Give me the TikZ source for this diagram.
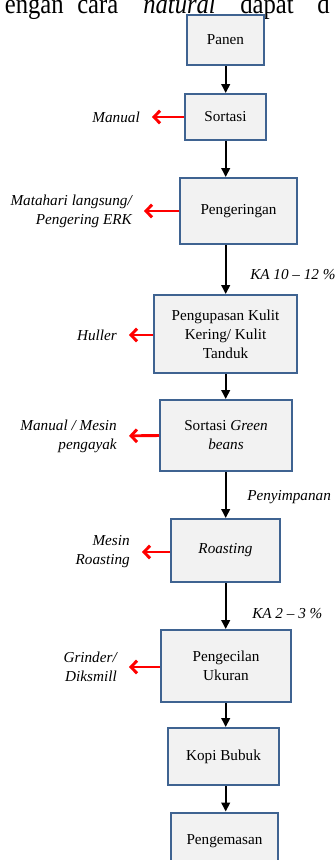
\documentclass[tikz,border=0pt]{standalone}
\usepackage{fontspec}
\setmainfont{Liberation Serif}
\newfontfamily\topfont[FakeStretch=0.88]{Liberation Serif}
\usetikzlibrary{arrows.meta}
\definecolor{boxfill}{HTML}{F2F2F2}
\definecolor{boxline}{HTML}{3F6391}
\begin{document}
\begin{tikzpicture}[x=0.75pt,y=-0.75pt,
  box/.style={draw=boxline, line width=1.5pt, fill=boxfill, inner sep=0pt, align=center, font=\fontsize{11.4}{14.3}\selectfont},
  lab/.style={inner sep=0pt, anchor=east, align=right, font=\fontsize{11.4}{14.3}\selectfont\itshape},
  note/.style={inner sep=0pt, anchor=west, font=\fontsize{11.4}{14.3}\selectfont\itshape},
  toptext/.style={inner sep=0pt, font=\topfont\fontsize{21}{22}\selectfont},
  flow/.style={line width=1.5pt, -{Triangle[length=6.75pt,width=6.5pt]}},
  tool/.style={draw=red, line width=2.2pt, -{Straight Barb[length=4.5pt,width=9.5pt]}, shorten >=9pt}]
\useasboundingbox (0,0) rectangle (335,860);
\begin{scope}
\clip (0,0) rectangle (335,860);
% cropped line of body text
\node[toptext, anchor=base east] (w1) at (64,13.3) {engan};
\node[toptext, anchor=base west] (w2) at (77,13.3) {cara};
\node[toptext, anchor=base west] (w3) at (143,13.3) {\itshape natural};
\node[toptext, anchor=base west] (w4) at (240,13.3) {dapat};
\node[toptext, anchor=base west] (w5) at (317,13.3) {d};

% process boxes
\node[box, minimum width=57.75pt, minimum height=37.5pt] (panen) at (225.5,40) {Panen};
\node[box, minimum width=60.75pt, minimum height=34.5pt] (sortasi) at (225.5,117) {Sortasi};
\node[box, minimum width=87.75pt, minimum height=49.5pt] (kering) at (238.5,211) {Pengeringan};
\node[box, minimum width=107.25pt, minimum height=58.5pt] (kupas) at (225.5,334) {Pengupasan Kulit\\Kering/ Kulit\\Tanduk};
\node[box, minimum width=99pt, minimum height=53.25pt] (green) at (226,435.5) {Sortasi \textit{Green}\\\textit{beans}};
\node[box, minimum width=81.75pt, minimum height=47.25pt] (roast) at (225.5,550.5) {\textit{Roasting}};
\node[box, minimum width=97.5pt, minimum height=54pt] (kecil) at (226,666) {Pengecilan\\Ukuran};
\node[box, minimum width=83.25pt, minimum height=42.75pt] (bubuk) at (223.5,756.5) {Kopi Bubuk};
\node[box, minimum width=80.25pt, minimum height=42.75pt] (kemas) at (224.5,841) {Pengemasan};

% main flow
\coordinate (sp) at (225.7,0);
\draw[flow] (panen.south -| sp) -- (sortasi.north -| sp);
\draw[flow] (sortasi.south -| sp) -- (kering.north -| sp);
\draw[flow] (kering.south -| sp) -- (kupas.north -| sp);
\draw[flow] (kupas.south -| sp) -- (green.north -| sp);
\draw[flow] (green.south -| sp) -- (roast.north -| sp);
\draw[flow] (roast.south -| sp) -- (kecil.north -| sp);
\draw[flow] (kecil.south -| sp) -- (bubuk.north -| sp);
\draw[flow] (bubuk.south -| sp) -- (kemas.north -| sp);

% notes beside the flow
\node[note] (ka1) at (250,275) {KA 10 – 12 \%};
\node[note] (simpan) at (247,497) {Penyimpanan};
\node[note] (ka2) at (252,614) {KA 2 – 3 \%};

% tools
\node[lab] (t1) at (140,117) {Manual};
\node[lab] (t2) at (132,211) {Matahari langsung/\\Pengering ERK};
\node[lab] (t3) at (117,335) {Huller};
\node[lab] (t4) at (117,436) {Manual / Mesin\\pengayak};
\node[lab] (t5) at (130,552) {Mesin\\Roasting};
\node[lab] (t6) at (117,667) {Grinder/\\Diksmill};
\draw[tool] (sortasi.west) -- (t1.east);
\draw[tool] (kering.west) -- (t2.east);
\draw[tool] (kupas.west |- t3.east) -- (t3.east);
\draw[tool] (green.west) -- (t4.east);
\draw[tool] (roast.west |- t5.east) -- (t5.east);
\draw[tool] (kecil.west |- t6.east) -- (t6.east);
\end{scope}
\end{tikzpicture}
\end{document}
